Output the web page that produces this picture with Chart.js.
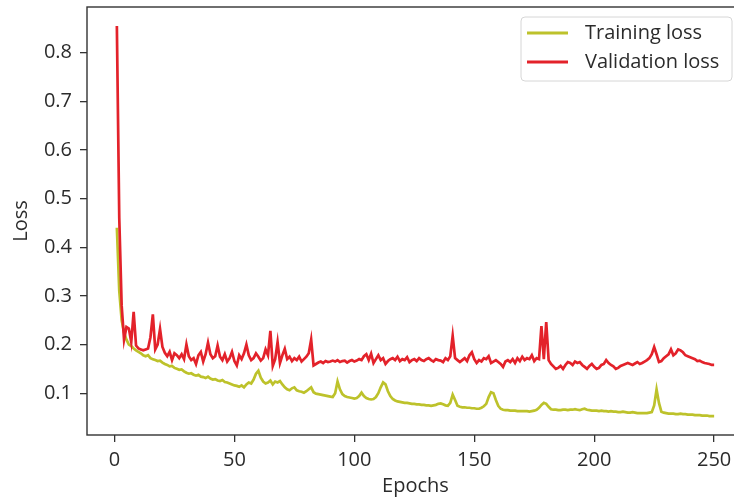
<!DOCTYPE html>
<html>
<head>
<meta charset="utf-8">
<title>Training and validation loss</title>
<script src="https://cdn.jsdelivr.net/npm/chart.js@4.4.0/dist/chart.umd.min.js"></script>
<style>
  html, body { margin: 0; background: #fff; overflow: hidden; }
  #lossChart { display: block; }
</style>
</head>
<body>
<!-- canvas is a bit wider than the window: the right spine is cut off like in the original figure -->
<canvas id="lossChart" width="744" height="502"></canvas>
<script>
// epochs run from 1 to 250
const epochs = [];
for (let i = 1; i <= 250; i++) {
    epochs.push(i);
}

// values, one per epoch
const trainingLoss = [
    0.440, 0.310, 0.250, 0.225, 0.210, 0.200, 0.197, 0.192, 0.188, 0.185,
    0.182, 0.178, 0.176, 0.178, 0.172, 0.170, 0.168, 0.166, 0.167, 0.163,
    0.160, 0.158, 0.155, 0.156, 0.152, 0.150, 0.148, 0.149, 0.145, 0.142,
    0.140, 0.141, 0.138, 0.136, 0.138, 0.134, 0.133, 0.131, 0.134, 0.130,
    0.128, 0.129, 0.126, 0.125, 0.127, 0.123, 0.122, 0.120, 0.118, 0.116,
    0.115, 0.113, 0.116, 0.112, 0.118, 0.122, 0.120, 0.128, 0.140, 0.146,
    0.132, 0.124, 0.120, 0.122, 0.126, 0.118, 0.124, 0.122, 0.125, 0.118,
    0.112, 0.108, 0.106, 0.110, 0.112, 0.106, 0.104, 0.103, 0.101, 0.104,
    0.108, 0.112, 0.102, 0.099, 0.098, 0.097, 0.096, 0.095, 0.094, 0.093,
    0.092, 0.100, 0.124, 0.108, 0.098, 0.094, 0.092, 0.091, 0.090, 0.089,
    0.090, 0.094, 0.101, 0.094, 0.090, 0.088, 0.087, 0.088, 0.092, 0.100,
    0.112, 0.122, 0.118, 0.104, 0.094, 0.088, 0.085, 0.083, 0.082, 0.081,
    0.080, 0.080, 0.079, 0.078, 0.078, 0.077, 0.077, 0.076, 0.076, 0.075,
    0.075, 0.074, 0.075, 0.076, 0.078, 0.079, 0.077, 0.075, 0.074, 0.080,
    0.097, 0.086, 0.074, 0.072, 0.071, 0.071, 0.070, 0.070, 0.069, 0.069,
    0.068, 0.068, 0.070, 0.073, 0.078, 0.092, 0.102, 0.100, 0.086, 0.074,
    0.068, 0.066, 0.065, 0.065, 0.064, 0.064, 0.064, 0.063, 0.063, 0.063,
    0.063, 0.063, 0.062, 0.063, 0.064, 0.066, 0.070, 0.076, 0.080, 0.078,
    0.072, 0.067, 0.066, 0.066, 0.065, 0.065, 0.066, 0.066, 0.065, 0.066,
    0.066, 0.067, 0.066, 0.065, 0.067, 0.068, 0.066, 0.065, 0.064, 0.064,
    0.064, 0.063, 0.064, 0.063, 0.063, 0.062, 0.063, 0.062, 0.062, 0.061,
    0.061, 0.062, 0.061, 0.060, 0.060, 0.061, 0.060, 0.059, 0.059, 0.059,
    0.059, 0.059, 0.060, 0.061, 0.075, 0.108, 0.080, 0.062, 0.060, 0.059,
    0.058, 0.058, 0.058, 0.057, 0.057, 0.058, 0.057, 0.057, 0.056, 0.056,
    0.056, 0.055, 0.055, 0.055, 0.054, 0.054, 0.054, 0.053, 0.053, 0.053
];

const validationLoss = [
    0.855, 0.460, 0.280, 0.210, 0.236, 0.233, 0.205, 0.267, 0.198, 0.192,
    0.190, 0.188, 0.190, 0.192, 0.215, 0.262, 0.190, 0.200, 0.232, 0.195,
    0.183, 0.176, 0.185, 0.168, 0.182, 0.178, 0.172, 0.180, 0.170, 0.200,
    0.176, 0.168, 0.172, 0.160, 0.178, 0.185, 0.165, 0.180, 0.204, 0.180,
    0.172, 0.176, 0.198, 0.175, 0.168, 0.180, 0.165, 0.172, 0.185, 0.166,
    0.157, 0.178, 0.170, 0.182, 0.200, 0.178, 0.168, 0.172, 0.182, 0.175,
    0.167, 0.172, 0.190, 0.178, 0.228, 0.156, 0.170, 0.205, 0.162, 0.178,
    0.191, 0.170, 0.175, 0.166, 0.172, 0.168, 0.175, 0.165, 0.170, 0.175,
    0.182, 0.210, 0.157, 0.160, 0.163, 0.165, 0.162, 0.166, 0.164, 0.165,
    0.167, 0.165, 0.168, 0.164, 0.166, 0.167, 0.163, 0.166, 0.168, 0.165,
    0.167, 0.170, 0.168, 0.176, 0.180, 0.168, 0.181, 0.162, 0.170, 0.178,
    0.168, 0.172, 0.160, 0.166, 0.170, 0.172, 0.168, 0.175, 0.166, 0.170,
    0.168, 0.174, 0.164, 0.168, 0.170, 0.166, 0.172, 0.168, 0.166, 0.170,
    0.172, 0.168, 0.165, 0.170, 0.168, 0.167, 0.164, 0.172, 0.168, 0.176,
    0.218, 0.172, 0.168, 0.164, 0.168, 0.172, 0.166, 0.178, 0.184, 0.170,
    0.162, 0.168, 0.165, 0.172, 0.170, 0.176, 0.162, 0.165, 0.168, 0.164,
    0.160, 0.154, 0.165, 0.168, 0.164, 0.170, 0.162, 0.172, 0.166, 0.175,
    0.168, 0.172, 0.170, 0.178, 0.166, 0.172, 0.170, 0.238, 0.170, 0.246,
    0.168, 0.160, 0.155, 0.150, 0.152, 0.156, 0.150, 0.158, 0.164, 0.162,
    0.158, 0.165, 0.162, 0.164, 0.158, 0.154, 0.150, 0.156, 0.160, 0.154,
    0.150, 0.152, 0.158, 0.160, 0.168, 0.162, 0.158, 0.155, 0.150, 0.152,
    0.156, 0.158, 0.160, 0.162, 0.160, 0.158, 0.161, 0.164, 0.160, 0.162,
    0.165, 0.168, 0.172, 0.180, 0.195, 0.180, 0.164, 0.166, 0.172, 0.176,
    0.180, 0.190, 0.178, 0.182, 0.190, 0.188, 0.184, 0.178, 0.176, 0.174,
    0.172, 0.170, 0.166, 0.167, 0.164, 0.162, 0.161, 0.160, 0.158, 0.158
];

// tick labels
const xTicks = [0, 50, 100, 150, 200, 250];
const yTicks = [0.1, 0.2, 0.3, 0.4, 0.5, 0.6, 0.7, 0.8];

const seriesNames = ['Training loss', 'Validation loss'];
const seriesColors = ['#bdc22b', '#e3222a'];

const textFont = { family: '"Open Sans", sans-serif', size: 20 };
const inkColor = '#2b2b2b';

// pair every value with its epoch
function toPoints(values) {
    return values.map((v, i) => ({ x: epochs[i], y: v }));
}

// box round the plot, like the matplotlib spines
const frame = {
    id: 'frame',
    afterDatasetsDraw(chart) {
        const ctx = chart.ctx;
        const a = chart.chartArea;
        ctx.save();
        ctx.strokeStyle = '#333';
        ctx.lineWidth = 1.4;
        ctx.strokeRect(a.left, a.top, a.right - a.left, a.bottom - a.top);
        ctx.restore();
    }
};

// legend in a rounded box in the upper right corner
const boxLegend = {
    id: 'boxLegend',
    afterDraw(chart) {
        const ctx = chart.ctx;
        const a = chart.chartArea;
        const w = 211, h = 64, r = 4;
        const x = a.right - 12 - w;
        const y = a.top + 10;

        ctx.save();
        ctx.beginPath();
        ctx.moveTo(x + r, y);
        ctx.arcTo(x + w, y, x + w, y + h, r);
        ctx.arcTo(x + w, y + h, x, y + h, r);
        ctx.arcTo(x, y + h, x, y, r);
        ctx.arcTo(x, y, x + w, y, r);
        ctx.closePath();
        ctx.fillStyle = 'rgba(255,255,255,0.8)';
        ctx.fill();
        ctx.strokeStyle = '#d6d6d6';
        ctx.lineWidth = 1;
        ctx.stroke();

        ctx.font = textFont.size + 'px ' + textFont.family;
        ctx.textBaseline = 'middle';
        ctx.textAlign = 'left';
        chart.data.datasets.forEach((ds, i) => {
            const rowY = y + 16 + i * 29;
            ctx.strokeStyle = ds.borderColor;
            ctx.lineWidth = 3;
            ctx.beginPath();
            ctx.moveTo(x + 6, rowY);
            ctx.lineTo(x + 47, rowY);
            ctx.stroke();
            ctx.fillStyle = inkColor;
            ctx.fillText(ds.label, x + 64, rowY);
        });
        ctx.restore();
    }
};

// scales would otherwise push the plot in to make room for half a label
function noEdgePadding(scale) {
    scale.paddingTop = 0;
    scale.paddingBottom = 0;
    scale.paddingLeft = 0;
    scale.paddingRight = 0;
}

const lossChart = new Chart(document.getElementById('lossChart'), {
    type: 'line',
    data: {
        datasets: [
            {
                label: seriesNames[0],
                data: toPoints(trainingLoss),
                borderColor: seriesColors[0],
                borderWidth: 2.7,
                pointRadius: 0,
                tension: 0,
                order: 1
            },
            {
                label: seriesNames[1],
                data: toPoints(validationLoss),
                borderColor: seriesColors[1],
                borderWidth: 2.7,
                pointRadius: 0,
                tension: 0,
                order: 0
            }
        ]
    },
    options: {
        responsive: false,
        animation: false,
        devicePixelRatio: 1,
        layout: { padding: { left: 0, top: 7, right: 0, bottom: 0 } },
        plugins: {
            legend: { display: false },
            tooltip: { enabled: false }
        },
        scales: {
            x: {
                type: 'linear',
                min: -11.45,
                max: 262.45,
                afterBuildTicks: scale => {
                    scale.ticks = xTicks.map(v => ({ value: v }));
                },
                afterFit: scale => {
                    scale.height = 67;
                    noEdgePadding(scale);
                },
                border: { display: false },
                grid: {
                    drawOnChartArea: false,
                    drawTicks: true,
                    tickLength: 7,
                    color: '#333',
                    lineWidth: 1.3
                },
                ticks: {
                    padding: 6,
                    color: inkColor,
                    font: textFont,
                    maxRotation: 0,
                    callback: v => String(v)
                },
                title: {
                    display: true,
                    text: 'Epochs',
                    color: inkColor,
                    font: textFont,
                    padding: { top: 0, bottom: 4 }
                }
            },
            y: {
                type: 'linear',
                min: 0.014,
                max: 0.894,
                afterBuildTicks: scale => {
                    scale.ticks = yTicks.map(v => ({ value: v }));
                },
                afterFit: scale => {
                    scale.width = 87;
                    noEdgePadding(scale);
                },
                border: { display: false },
                grid: {
                    drawOnChartArea: false,
                    drawTicks: true,
                    tickLength: 7,
                    color: '#333',
                    lineWidth: 1.3
                },
                ticks: {
                    padding: 8,
                    color: inkColor,
                    font: textFont,
                    callback: v => v.toFixed(1)
                },
                title: {
                    display: true,
                    text: 'Loss',
                    color: inkColor,
                    font: textFont,
                    padding: { top: 9, bottom: 0 }
                }
            }
        }
    },
    plugins: [frame, boxLegend]
});
</script>
</body>
</html>
